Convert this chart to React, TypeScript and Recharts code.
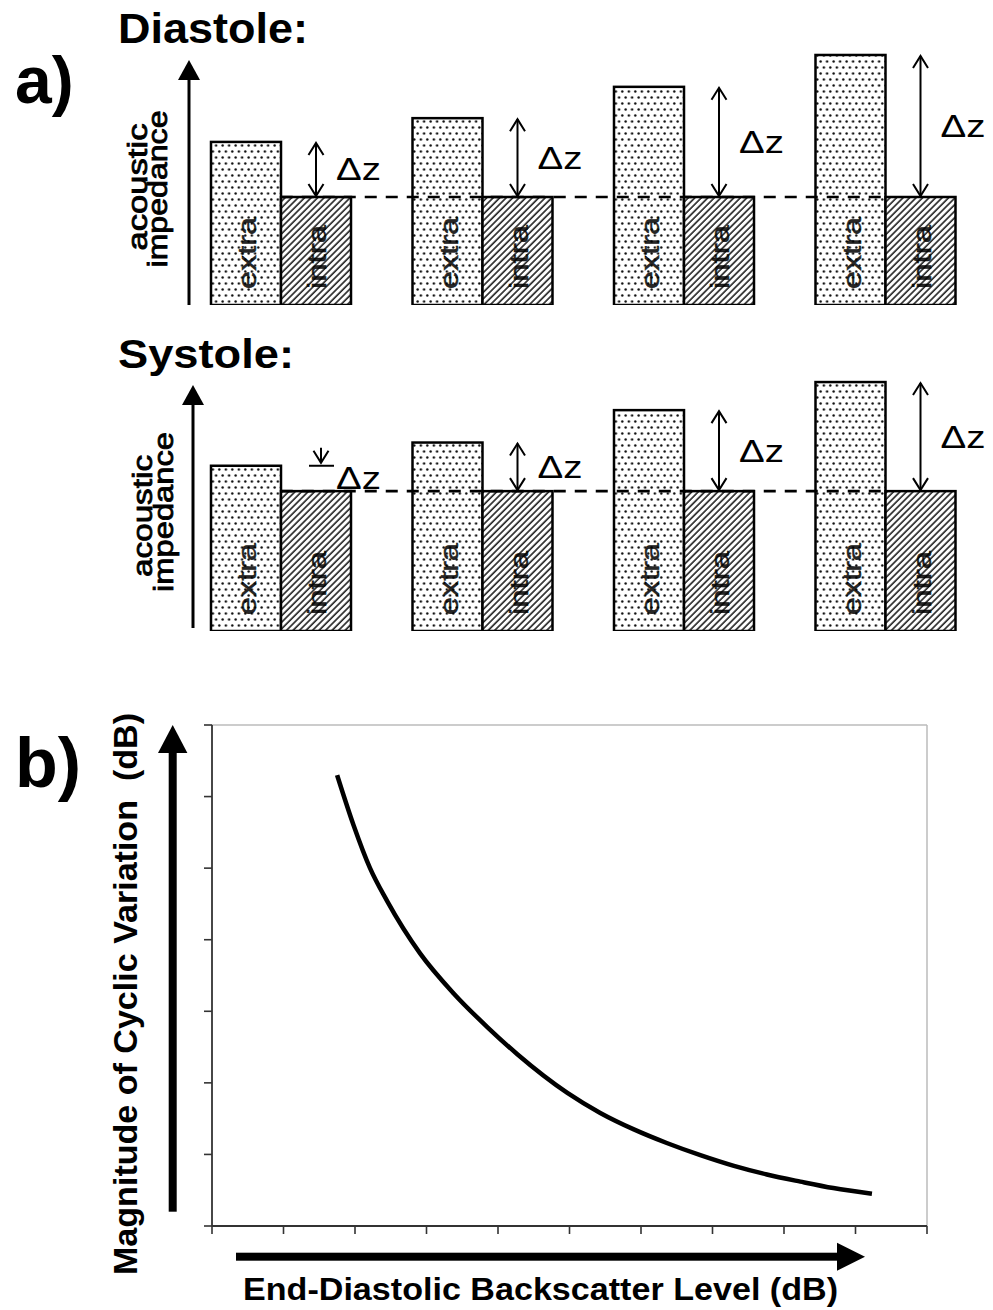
import React from 'react';
import { BarChart, Bar, XAxis, YAxis, ReferenceLine, LineChart, Line } from 'recharts';

// ---------- data ----------
const groups = ['g1', 'g2', 'g3', 'g4'];
const diastoleExtra = [3.02, 3.46, 4.04, 4.63];
const diastoleIntra = [2.0, 2.0, 2.0, 2.0];
const systoleExtra = [3.06, 3.49, 4.09, 4.61];
const systoleIntra = [2.59, 2.59, 2.59, 2.59];
const extraLabel = 'extra';
const intraLabel = 'intra';
const deltaLabel = 'Δz';

const curveX = [1.75, 1.98, 2.21, 2.45, 2.91, 3.38, 3.85, 4.27, 4.97, 5.43, 5.9, 6.36, 6.83, 7.3, 7.76, 8.23, 8.69, 9.23];
const curveY = [6.3, 5.6, 5.0, 4.54, 3.81, 3.25, 2.78, 2.4, 1.86, 1.58, 1.35, 1.16, 0.99, 0.84, 0.72, 0.62, 0.53, 0.45];
const xTicks = [0, 1, 2, 3, 4, 5, 6, 7, 8, 9, 10];
const yTicks = [0, 1, 2, 3, 4, 5, 6, 7];

const diastoleData = groups.map((g, i) => ({ name: g, extra: diastoleExtra[i], intra: diastoleIntra[i] }));
const systoleData = groups.map((g, i) => ({ name: g, extra: systoleExtra[i], intra: systoleIntra[i] }));
const curveData = curveX.map((x, i) => ({ x, y: curveY[i] }));

const FONT = '"Liberation Sans", Arial, Helvetica, sans-serif';

// ---------- shapes ----------
function BarText({ cx, bottom, text, len }: any) {
  const bx = cx + 10;
  const by = bottom - 16;
  return (
    <text
      transform={`translate(${bx},${by}) rotate(-90)`}
      x={0}
      y={0}
      fontFamily={FONT}
      fontSize={25}
      textLength={len}
      lengthAdjust="spacingAndGlyphs"
      fill="#000"
      stroke="#000"
      strokeWidth={0.4}
      fillOpacity={0.85}
    >
      {text}
    </text>
  );
}

function ExtraShape(props: any) {
  const { x, y, width, height } = props;
  return (
    <g>
      <rect x={x} y={y} width={width} height={height} fill="url(#dotsPat)" stroke="#000" strokeWidth={2.5} />
      <BarText cx={x + width / 2} bottom={y + height} text={extraLabel} len={72} />
    </g>
  );
}

function ArrowHead({ x, y, dir }: any) {
  const L = 12;
  const W = 7.5;
  return (
    <polyline
      points={`${x - W},${y - dir * L} ${x},${y} ${x + W},${y - dir * L}`}
      fill="none"
      stroke="#000"
      strokeWidth={2}
    />
  );
}

function IntraShape(props: any) {
  const { x, y, width, height, payload } = props;
  const perUnit = height / payload.intra;
  const base = y + height;
  const extraY = base - payload.extra * perUnit;
  const cx = x + width / 2;
  const gap = y - extraY;
  const mid = (y + extraY) / 2;
  return (
    <g>
      <rect x={x} y={y} width={width} height={height} fill="url(#hatchPat)" stroke="#000" strokeWidth={2.5} />
      <BarText cx={cx} bottom={base} text={intraLabel} len={64} />
      {gap > 35 ? (
        <g>
          <line x1={cx} y1={extraY + 1} x2={cx} y2={y - 1} stroke="#000" strokeWidth={2} />
          <ArrowHead x={cx} y={extraY + 1} dir={-1} />
          <ArrowHead x={cx} y={y - 1} dir={1} />
        </g>
      ) : (
        <g>
          <line x1={cx + 5} y1={extraY - 18} x2={cx + 5} y2={extraY - 3} stroke="#000" strokeWidth={2} />
          <ArrowHead x={cx + 5} y={extraY - 3} dir={1} />
          <line x1={cx - 7} y1={extraY} x2={cx + 18} y2={extraY} stroke="#000" strokeWidth={2} />
        </g>
      )}
      <text
        x={cx + 20}
        y={mid + 11}
        fontFamily={FONT}
        fontSize={31}
        textLength={45}
        lengthAdjust="spacingAndGlyphs"
        fill="#000"
      >
        {deltaLabel}
      </text>
    </g>
  );
}

const EmptyTick = () => <g />;

function Row({ data, top, height, marginTop, marginBottom }: any) {
  const level = data[0].intra;
  return (
    <div style={{ position: 'absolute', left: 0, top, width: 993, height }}>
      <BarChart
        width={993}
        height={height}
        data={data}
        margin={{ top: marginTop, right: 7, bottom: marginBottom, left: 180 }}
        barSize={70}
        barGap={0}
      >
        <XAxis dataKey="name" hide />
        <YAxis hide domain={[0, 5]} type="number" allowDataOverflow />
        <Bar dataKey="extra" shape={<ExtraShape />} isAnimationActive={false} />
        <Bar dataKey="intra" shape={<IntraShape />} isAnimationActive={false} />
        <ReferenceLine
          segment={[
            { x: groups[0], y: level },
            { x: groups[groups.length - 1], y: level },
          ]}
          stroke="#000"
          strokeWidth={2.6}
          strokeDasharray="12 9"
        />
      </BarChart>
    </div>
  );
}

export default function App() {
  return (
    <div style={{ position: 'absolute', left: 0, top: 0, width: 993, height: 1310, background: '#fff', fontFamily: FONT }}>
      <svg width={0} height={0} style={{ position: 'absolute' }}>
        <defs>
          <pattern id="dotsPat" patternUnits="userSpaceOnUse" width={6.5} height={12}>
            <rect x={0} y={0} width={6.5} height={12} fill="#fff" />
            <circle cx={1.6} cy={1.5} r={1.2} fill="#111" />
            <circle cx={4.85} cy={7.5} r={1.2} fill="#111" />
          </pattern>
          <pattern id="hatchPat" patternUnits="userSpaceOnUse" width={4.6} height={4.6} patternTransform="rotate(45)">
            <rect x={0} y={0} width={4.6} height={4.6} fill="#fff" />
            <line x1={1} y1={0} x2={1} y2={4.6} stroke="#000" strokeWidth={1.4} />
          </pattern>
        </defs>
      </svg>

      <Row data={diastoleData} top={0} height={320} marginTop={35} marginBottom={15} />
      <Row data={systoleData} top={330} height={310} marginTop={31} marginBottom={9} />

      <div style={{ position: 'absolute', left: 0, top: 680, width: 993, height: 630 }}>
        <LineChart width={993} height={630} data={curveData} margin={{ top: 45, right: 66, bottom: 54, left: 152 }}>
          <ReferenceLine y={7} stroke="#bbb" strokeWidth={1.5} />
          <ReferenceLine x={10} stroke="#bbb" strokeWidth={1.5} />
          <XAxis
            type="number"
            dataKey="x"
            domain={[0, 10]}
            ticks={xTicks}
            tick={EmptyTick}
            tickSize={8}
            axisLine={{ stroke: '#333', strokeWidth: 1.8 }}
            tickLine={{ stroke: '#333', strokeWidth: 1.6 }}
            height={30}
            interval={0}
            allowDataOverflow
          />
          <YAxis
            type="number"
            domain={[0, 7]}
            ticks={yTicks}
            tick={EmptyTick}
            tickSize={8}
            axisLine={{ stroke: '#333', strokeWidth: 1.8 }}
            tickLine={{ stroke: '#333', strokeWidth: 1.6 }}
            width={60}
            interval={0}
            allowDataOverflow
          />
          <Line dataKey="y" type="monotone" stroke="#000" strokeWidth={4.5} dot={false} isAnimationActive={false} />
        </LineChart>
      </div>

      <svg width={993} height={1310} style={{ position: 'absolute', left: 0, top: 0, pointerEvents: 'none' }}>
        <g fontFamily={FONT} fill="#000">
          <text x={15} y={103} fontSize={66} fontWeight="bold">a)</text>
          <text x={118} y={43} fontSize={42} fontWeight="bold" textLength={190} lengthAdjust="spacingAndGlyphs">Diastole:</text>
          <text x={118} y={368} fontSize={41} fontWeight="bold" textLength={176} lengthAdjust="spacingAndGlyphs">Systole:</text>
          <text x={15} y={787} fontSize={70} fontWeight="bold">b)</text>

          {/* diastole axis arrow */}
          <line x1={189} y1={305} x2={189} y2={76} stroke="#000" strokeWidth={3} />
          <polygon points="178,80 200,80 189,60" fill="#000" />
          <text transform="translate(147,187) rotate(-90)" textAnchor="middle" fontSize={27} stroke="#000" strokeWidth={0.8} textLength={127} lengthAdjust="spacingAndGlyphs">acoustic</text>
          <text transform="translate(167,189) rotate(-90)" textAnchor="middle" fontSize={27} stroke="#000" strokeWidth={0.8} textLength={157} lengthAdjust="spacingAndGlyphs">impedance</text>

          {/* systole axis arrow */}
          <line x1={193} y1={628} x2={193} y2={401} stroke="#000" strokeWidth={3} />
          <polygon points="182,405 204,405 193,385" fill="#000" />
          <text transform="translate(152,516) rotate(-90)" textAnchor="middle" fontSize={27} stroke="#000" strokeWidth={0.8} textLength={122} lengthAdjust="spacingAndGlyphs">acoustic</text>
          <text transform="translate(173,512) rotate(-90)" textAnchor="middle" fontSize={27} stroke="#000" strokeWidth={0.8} textLength={160} lengthAdjust="spacingAndGlyphs">impedance</text>

          {/* part b thick arrows */}
          <rect x={168.7} y={750} width={8} height={461.7} fill="#000" />
          <polygon points="158,753 187.4,753 172.7,725" fill="#000" />
          <rect x={236} y={1252.7} width={602} height={8} fill="#000" />
          <polygon points="837,1242.7 837,1270.7 865,1256.7" fill="#000" />

          <text x={243} y={1300} fontSize={32} fontWeight="bold" textLength={595} lengthAdjust="spacingAndGlyphs">End-Diastolic Backscatter Level (dB)</text>
          <text transform="translate(137,994) rotate(-90)" textAnchor="middle" fontSize={33} fontWeight="bold" textLength={562} lengthAdjust="spacingAndGlyphs" style={{ whiteSpace: 'pre' }}>Magnitude of Cyclic Variation  (dB)</text>
        </g>
      </svg>
    </div>
  );
}
